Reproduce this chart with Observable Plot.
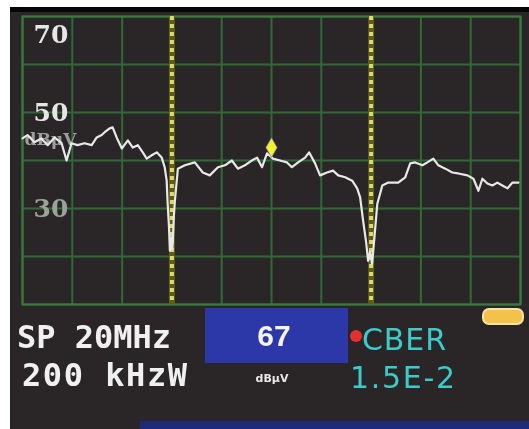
<!DOCTYPE html>
<html><head><meta charset="utf-8">
<script src="https://cdn.jsdelivr.net/npm/d3@7"></script>
<script src="https://cdn.jsdelivr.net/npm/@observablehq/plot@0.6"></script>
<style>
html,body{margin:0;padding:0;background:#fff;}
#wrap{position:relative;width:529px;height:429px;overflow:hidden;background:#fff;}
#screen{position:absolute;left:10px;top:7px;width:519px;height:422px;background:#2a2628;border-top:5px solid #060606;box-sizing:border-box;}
#wrap svg{position:absolute;left:0;top:0;filter:blur(0.5px);}
</style></head><body><div id="wrap"><div id="screen"></div></div>
<script>
// Spectrum trace: frequency offset (MHz) and level (dB)
const freqMHz = [-10,-9.8,-9.52,-9.24,-8.99,-8.71,-8.43,-8.23,-8.03,-7.79,-7.51,-7.22,-7.02,-6.82,-6.7,-6.5,-6.38,-6.22,-6.01,-5.77,-5.57,-5.37,-5.17,-5.01,-4.81,-4.61,-4.41,-4.29,-4.21,-4.17,-4.12,-4.08,-4.03,-3.98,-3.92,-3.88,-3.76,-3.48,-3.08,-2.76,-2.48,-2.15,-1.87,-1.59,-1.35,-1.07,-0.79,-0.58,-0.38,-0.18,0.06,0.34,0.62,0.82,1.07,1.35,1.51,1.75,1.95,2.23,2.47,2.68,2.96,3.24,3.44,3.56,3.68,3.8,3.88,3.96,4.04,4.12,4.25,4.45,4.69,5.09,5.37,5.57,5.77,6.06,6.26,6.5,6.7,6.98,7.26,7.5,7.87,8.11,8.31,8.47,8.67,8.87,9.07,9.27,9.48,9.68,9.92];
const levelDb = [44.6,45.3,43.8,44.6,43.2,44.8,43.6,40.0,43.6,43.2,43.6,43.2,44.8,45.3,45.9,46.7,46.9,44.8,42.5,44.2,42.7,43.2,41.7,40.4,41.1,41.7,40.6,38.6,35.8,31.0,26.5,21.2,24.0,21.6,28.5,31.6,38.3,39.0,39.6,37.5,36.9,38.6,39.0,40.0,38.3,39.0,40.0,40.6,38.6,41.5,40.4,40.0,39.6,38.6,39.6,40.6,41.7,39.4,36.9,37.5,37.9,36.9,36.5,35.8,34.2,32.3,27.4,23.0,19.1,21.0,18.5,23.2,31.0,34.8,35.4,35.4,36.5,39.4,39.6,39.0,39.6,40.4,39.0,38.3,37.5,37.3,36.9,36.2,33.7,36.2,35.2,34.8,35.4,34.8,34.2,35.4,35.4];
const gridFreqs = [-10,-8,-6,-4,-2,0,2,4,6,8,10];
const gridLevels = [10,20,30,40,50,60,70];
const tickLevels = [70,50,30];
const tickLabels = ["70","50","30"];
const unitLabel = "dBμV";
const markerFreqs = [-4,4];
const peakFreq = [0];
const peakLevel = [42.7];
// Readout panel texts
const spanText = "SP 20MHz";
const rbwText = "200 kHzW";
const levelValue = "67";
const levelUnit = "dBμV";
const berName = "CBER";
const berValue = "1.5E-2";

const trace = freqMHz.map((f,i)=>({f, v: levelDb[i]}));
const ticks = tickLevels.map((v,i)=>({v, label: tickLabels[i]}));
const topTick = ticks.filter(d => d.v === d3.max(tickLevels));
const midTicks = ticks.filter(d => d.v !== d3.max(tickLevels) && d.v !== d3.min(tickLevels));
const lowTicks = ticks.filter(d => d.v === d3.min(tickLevels));
const peak = peakFreq.map((f,i)=>({f, v: peakLevel[i]}));

const grid = "#2f6a35";
const labelStyle = {x: () => -10, y: "v", text: "label", dx: 11, textAnchor: "start",
  fontFamily: "DejaVu Serif", fontWeight: "bold", fontSize: 25};
const chart = Plot.plot({
  width: 529, height: 429,
  marginLeft: 22, marginRight: 9, marginTop: 16, marginBottom: 125,
  x: {domain: [-10,10], axis: null},
  y: {domain: [10,70], axis: null},
  style: {background: "transparent"},
  marks: [
    Plot.ruleX(gridFreqs, {stroke: grid, strokeWidth: 2}),
    Plot.ruleY(gridLevels, {stroke: grid, strokeWidth: 2}),
    Plot.frame({stroke: "#3a7a3c", strokeWidth: 2}),
    Plot.text(topTick, {...labelStyle, dy: 18, fill: "#e6e6e6"}),
    Plot.text(midTicks, {...labelStyle, fill: "#e6e6e6"}),
    Plot.text(lowTicks, {...labelStyle, fill: "#9aa29a"}),
    Plot.text([unitLabel], {x: () => -10, y: () => 50, text: d => d, dx: 2, dy: 27, textAnchor: "start",
      fontFamily: "DejaVu Serif", fontWeight: "bold", fontSize: 17, fill: "#9c9e9c"}),
    Plot.ruleX(markerFreqs, {stroke: "#5e5e1c", strokeWidth: 6}),
    Plot.ruleX(markerFreqs, {stroke: "#dcdc6a", strokeWidth: 4, strokeDasharray: "4,4"}),
    Plot.line(trace, {x: "f", y: "v", stroke: "#e8e8e8", strokeWidth: 2.2}),
    Plot.dot(peak, {x: "f", y: "v", r: 6, symbol: "diamond", fill: "#f2f030", stroke: "#6a5ad0", strokeWidth: 0.6})
  ]
});
document.getElementById("wrap").appendChild(chart);

const svg = d3.select("#wrap").append("svg").attr("width", 529).attr("height", 429);
svg.append("rect").attr("x", 205).attr("y", 308).attr("width", 143).attr("height", 55).attr("fill", "#2c38a8");
svg.append("rect").attr("x", 483).attr("y", 309).attr("width", 40).attr("height", 15).attr("rx", 6)
  .attr("fill", "#f2c24a").attr("stroke", "#f7e2a0").attr("stroke-width", 2);
svg.append("rect").attr("x", 140).attr("y", 421).attr("width", 389).attr("height", 8).attr("fill", "#1e2a7a");
const mono = "DejaVu Sans Mono";
svg.append("text").attr("x", 17).attr("y", 348).text(spanText)
  .attr("font-family", mono).attr("font-weight", "bold").attr("font-size", 32).attr("fill", "#f0f0f0");
svg.append("text").attr("x", 22).attr("y", 386).text(rbwText)
  .attr("font-family", mono).attr("font-weight", "bold").attr("font-size", 32).attr("fill", "#f0f0f0")
  .attr("textLength", 165);
svg.append("text").attr("x", 274).attr("y", 346).attr("text-anchor", "middle").text(levelValue)
  .attr("font-family", "Liberation Sans").attr("font-weight", "bold").attr("font-size", 30).attr("fill", "#f4f4f4");
svg.append("text").attr("x", 272).attr("y", 382).attr("text-anchor", "middle").text(levelUnit)
  .attr("font-family", "DejaVu Sans").attr("font-weight", "bold").attr("font-size", 11).attr("fill", "#e8e8e8");
svg.append("circle").attr("cx", 356).attr("cy", 336).attr("r", 6).attr("fill", "#e23030");
svg.append("text").attr("x", 362).attr("y", 350).text(berName)
  .attr("font-family", "DejaVu Sans").attr("font-size", 30).attr("fill", "#3ccaca").attr("textLength", 84);
svg.append("text").attr("x", 350).attr("y", 388).text(berValue)
  .attr("font-family", "DejaVu Sans").attr("font-size", 30).attr("fill", "#3ccaca").attr("textLength", 105);
</script></body></html>
